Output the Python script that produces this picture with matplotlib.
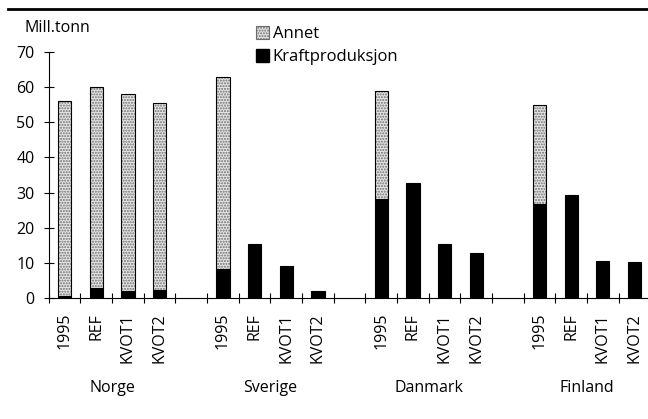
import matplotlib
matplotlib.use("Agg")
import matplotlib.pyplot as plt
from matplotlib.patches import Patch
from matplotlib.lines import Line2D
import matplotlib.transforms as mtransforms
import numpy as np

plt.rcParams['font.family'] = ['Open Sans', 'DejaVu Sans']

countries = ["Norge", "Sverige", "Danmark", "Finland"]
scenarios = ["1995", "REF", "KVOT1", "KVOT2"]
# totals (Kraftproduksjon + Annet)
total = {
    "Norge":   [56.1, 60.2, 58.0, 55.4],
    "Sverige": [63.0, 15.2, 8.9, 1.8],
    "Danmark": [59.0, 32.7, 15.2, 12.8],
    "Finland": [55.0, 29.2, 10.5, 10.2],
}
kraft = {
    "Norge":   [0.4, 2.8, 1.9, 2.1],
    "Sverige": [8.1, 15.2, 8.9, 1.8],
    "Danmark": [28.1, 32.7, 15.2, 12.8],
    "Finland": [26.7, 29.2, 10.5, 10.2],
}
yticks = [0, 10, 20, 30, 40, 50, 60, 70]

W, H = 648, 419
fig = plt.figure(figsize=(W/100, H/100), dpi=100)
ax = fig.add_axes([48.8/W, (H-297.7)/H, (650.3-48.8)/W, (297.7-52.3)/H])

fs = 11.5
bw = 0.42
hatch_face = '#e6e6e6'
hatch_col = '#6e6e6e'
positions = []
labels = []
for gi, c in enumerate(countries):
    for si, s in enumerate(scenarios):
        x = gi*5 + si + 0.5
        positions.append(x)
        labels.append(s)
        k = kraft[c][si]
        t = total[c][si]
        a = t - k
        ax.bar(x, k, width=bw, color='black', edgecolor='black', linewidth=0.8, zorder=3)
        if a > 0.05:
            ax.bar(x, a, bottom=k, width=bw, color=hatch_face, edgecolor=hatch_col,
                   hatch='......', linewidth=0, zorder=3)
            ax.bar(x, a, bottom=k, width=bw, color='none', edgecolor='black',
                   linewidth=0.8, zorder=4)

ax.set_xlim(0, 19)
ax.set_ylim(0, 70)
ax.set_yticks(yticks)
ax.set_yticklabels([str(v) for v in yticks], fontsize=fs)
ax.set_xticks(np.arange(0, 20))
ax.set_xticklabels([])
ax.set_xticks(positions, minor=True)
ax.set_xticklabels(labels, minor=True, rotation=90, fontsize=fs, va='top')
ax.tick_params(axis='x', which='minor', length=0, pad=11)
ax.tick_params(axis='x', which='major', direction='inout', length=6.5, width=0.8)
ax.tick_params(axis='y', direction='inout', length=6.5, width=0.8, pad=7)
for sp in ['top', 'right']:
    ax.spines[sp].set_visible(False)
ax.spines['left'].set_linewidth(0.8)
ax.spines['bottom'].set_linewidth(0.8)

trans = mtransforms.blended_transform_factory(ax.transData, fig.transFigure)
for gi, c in enumerate(countries):
    ax.text(gi*5 + 2, 1 - 388/H, c, transform=trans, ha='center', va='center',
            fontsize=fs)

fig.text(24/W, 1 - 28/H, "Mill.tonn", ha='left', va='center', fontsize=fs)

fig.add_artist(Line2D([8/W, 1.0], [1 - 9/H, 1 - 9/H], transform=fig.transFigure,
                      color='black', linewidth=2))

handles = [Patch(facecolor=hatch_face, edgecolor=hatch_col, hatch='......', linewidth=0.8),
           Patch(facecolor='black', edgecolor='black')]
fig.legend(handles, ["Annet", "Kraftproduksjon"], loc='upper left',
           bbox_to_anchor=(256/W, 1 - 26/H), frameon=False, fontsize=12,
           handlelength=0.8, handleheight=0.8, handletextpad=0.2,
           labelspacing=0.4, borderpad=0, borderaxespad=0)

fig.savefig("out.png", dpi=100)
